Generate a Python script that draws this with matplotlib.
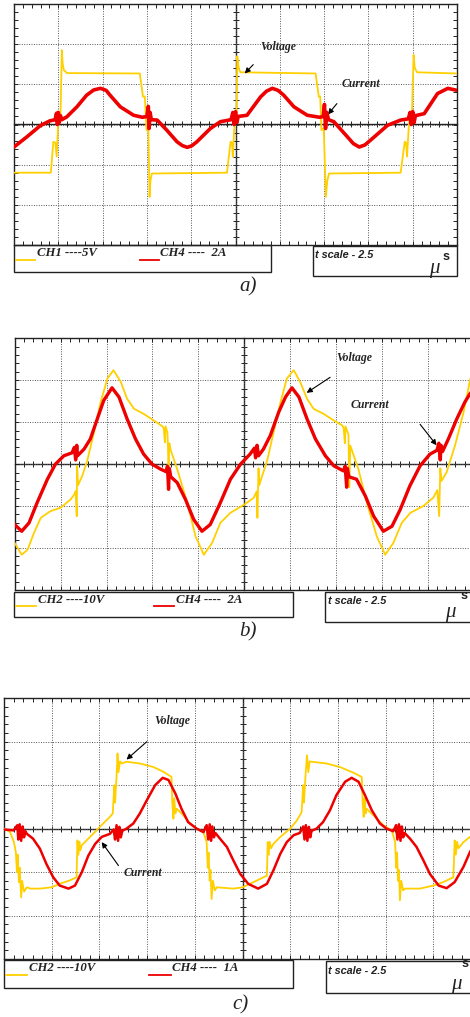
import numpy as np
import matplotlib
matplotlib.use("Agg")
import matplotlib.pyplot as plt
from matplotlib.patches import Rectangle

# screen: 10 div x 2.5 us, 6 div vertically
T_DIV = 2.5

# ---- a) CH1 5 V/div, CH4 2 A/div
a_volt_t = [0, 2.08, 2.22, 2.33, 2.41, 2.5, 2.62, 2.7, 2.75, 2.82,
            3.0, 7.1, 7.28, 7.38, 7.48, 7.58, 7.65, 7.7, 7.78,
            12.02, 12.22, 12.3, 12.35, 12.45, 12.55, 12.6, 12.68, 12.78,
            17.02, 17.2, 17.28, 17.35, 17.48, 17.6, 17.68, 17.78,
            21.82, 22.05, 22.12, 22.18, 22.3, 22.45, 22.55, 22.62, 22.75, 25]
a_volt = [-6.0, -6.0, -2.15, -2.25, -4.0, 0.5, 0.75, 9.25, 7.5, 6.75,
          6.4, 6.35, 3.45, 3.5, -0.7, -0.5, -9.0, -7.0, -6.1,
          -6.0, -2.15, -2.25, -4.0, 0.5, 0.75, 8.5, 7.0, 6.5,
          6.35, 3.45, 3.5, -0.7, -0.5, -9.0, -7.0, -6.1,
          -6.0, -2.15, -2.25, -4.0, 0.5, 0.75, 8.65, 7.0, 6.5, 6.35]
a_curr_t = [0, 0.72, 1.48, 2.02,
            2.32, 2.4, 2.45, 2.5, 2.55, 2.62, 2.7,
            2.98, 3.55, 4.1, 4.5, 4.88, 5.2, 5.42, 6.0, 6.75, 7.25,
            7.5, 7.58, 7.62, 7.68, 7.75,
            8.08, 8.62, 9.2, 9.5, 9.78, 10.05, 10.32, 11.08, 11.65,
            12.25, 12.35, 12.42, 12.5, 12.58, 12.65,
            13.15, 13.92, 14.25, 14.58, 14.9, 15.22, 15.8, 16.55, 17.25,
            17.45, 17.52, 17.58, 17.65, 17.75,
            18.05, 18.82, 19.15, 19.48, 19.8, 20.12, 21.08, 21.82,
            22.25, 22.35, 22.42, 22.5, 22.58, 22.65,
            23.15, 23.9, 24.48, 25]
a_curr = [-1.12, -0.62, -0.06, 0.18,
          0.24, 0.56, 0.0, 0.6, 0.1, 0.44, 0.24,
          0.38, 0.88, 1.46, 1.72, 1.8, 1.7, 1.46, 0.88, 0.46, 0.36,
          0.4, 0.9, -0.2, 0.6, 0.24,
          0.22, -0.28, -0.86, -1.05, -1.14, -1.05, -0.86, -0.2, 0.14,
          0.24, 0.6, 0.0, 0.64, 0.1, 0.4,
          0.46, 1.38, 1.66, 1.8, 1.7, 1.46, 0.88, 0.46, 0.36,
          0.4, 1.0, -0.2, 0.6, 0.24,
          0.14, -0.62, -0.95, -1.12, -1.02, -0.78, -0.04, 0.22,
          0.28, 0.6, 0.0, 0.64, 0.1, 0.44,
          0.54, 1.54, 1.8, 1.7]

# ---- b) CH2 10 V/div, CH4 2 A/div
b_volt_t = [0, 0.38, 0.7, 1.05, 1.42, 1.95, 2.5, 3.05, 3.28,
            3.32, 3.38, 3.4, 3.45,
            3.68, 3.95, 4.32, 4.68, 5.05, 5.38, 5.78, 6.12, 6.5, 7.02, 7.58, 8.05,
            8.12, 8.18, 8.22, 8.32, 8.38, 8.42,
            8.48, 8.85, 9.4, 9.85, 10.3, 10.75, 11.2, 11.75, 12.52, 13.02,
            13.18, 13.22, 13.28, 13.32,
            13.48, 13.75, 14.1, 14.48, 14.82, 15.2, 15.55, 15.92, 16.28, 16.82, 17.38, 17.85,
            17.92, 17.98, 18.02, 18.18, 18.22, 18.28,
            18.72, 19.18, 19.72, 20.18, 20.62, 21.08, 21.55, 22.25, 22.8,
            23.02, 23.12, 23.18, 23.25,
            23.52, 23.98, 24.45, 24.8, 25]
b_volt = [-18.8, -21.6, -20.4, -16.4, -12.8, -11.2, -10.4, -8.4, -7.0,
          -6.4, -12.4, -0.4, -5.0,
          -2.8, 0.8, 7.6, 14.8, 20.4, 22.4, 19.6, 15.6, 13.2, 12.0, 10.4, 9.0,
          8.5, 5.2, 9.0, 7.5, -0.5, 5.0,
          3.6, -1.2, -9.2, -17.2, -21.6, -18.8, -14.0, -11.6, -9.6, -8.0,
          -6.5, -12.8, -1.0, -5.0,
          -2.8, 0.8, 7.6, 14.8, 20.4, 22.4, 19.6, 15.6, 13.2, 12.0, 10.4, 9.2,
          8.5, 5.0, 9.0, 7.0, -5.5, 4.4,
          -1.2, -9.2, -17.2, -21.6, -18.8, -14.0, -11.6, -10.0, -8.0,
          -6.2, -12.4, -1.0, -4.0,
          -2.0, 4.4, 12.4, 20.0, 23.0]
b_curr_t = [0, 0.38, 0.78, 1.22, 1.78, 2.22, 2.68, 3.12,
            3.25, 3.32, 3.38, 3.42,
            3.78, 4.12, 4.5, 4.85, 5.3, 5.68, 6.12, 6.58, 7.02, 7.48, 7.95, 8.25,
            8.32, 8.38, 8.42, 8.5,
            8.85, 9.3, 9.75, 10.2, 10.65, 11.2, 11.75, 12.3, 12.82,
            13.05, 13.12, 13.2, 13.28,
            13.55, 13.92, 14.38, 14.75, 15.1, 15.48, 15.92, 16.38, 16.92, 17.38, 17.9,
            18.0, 18.08, 18.12, 18.2,
            18.62, 19.1, 19.55, 20.08, 20.55, 21.0, 21.52, 22.08, 22.62, 23.0,
            23.1, 23.18, 23.22, 23.3,
            23.62, 24.08, 24.52, 24.8, 25]
b_curr = [-2.88, -3.2, -2.8, -1.84, -0.72, 0.0, 0.4, 0.54,
          0.8, 0.2, 0.9, 0.4,
          0.72, 1.2, 2.16, 3.04, 3.64, 3.2, 2.16, 1.2, 0.48, 0.0, -0.24, -0.36,
          -0.1, -1.2, -0.2, -0.6,
          -0.88, -1.68, -2.64, -3.2, -2.88, -1.84, -0.72, 0.0, 0.48,
          0.76, 0.3, 0.9, 0.4,
          0.72, 1.36, 2.48, 3.2, 3.64, 3.2, 2.16, 1.2, 0.4, -0.08, -0.32,
          -0.1, -1.1, -0.2, -0.6,
          -0.72, -1.52, -2.48, -3.2, -2.96, -2.16, -1.04, -0.08, 0.48, 0.66,
          1.0, 0.2, 0.9, 0.6,
          1.2, 2.16, 2.96, 3.36, 3.56]

# ---- c) CH2 10 V/div, CH4 1 A/div
c_volt_t = [0, 0.32, 0.52, 0.62,
            0.68, 0.72, 0.78, 0.82, 0.9, 0.95, 1.05,
            1.2, 1.38, 1.88, 2.5, 2.92, 3.45, 3.8,
            3.85, 3.9, 3.95, 4.0,
            4.08, 4.42, 4.85, 5.2, 5.55, 5.7,
            5.78, 5.82, 5.9, 5.95, 6.0, 6.08,
            6.18, 6.42, 7.12, 7.82, 8.35, 8.78,
            8.82, 8.88, 8.92, 8.98, 9.05,
            9.4, 9.75, 10.1, 10.45, 10.62,
            10.68, 10.72, 10.78, 10.82, 10.88, 10.95, 11.05,
            11.15, 12.02, 12.5, 13.08, 13.6, 13.78,
            13.82, 13.88, 13.92, 14.0,
            14.12, 14.48, 15.0, 15.35, 15.6,
            15.68, 15.72, 15.8, 15.88, 15.95, 16.02,
            16.12, 16.9, 17.6, 18.3, 18.75,
            18.8, 18.85, 18.9, 18.95, 19.0,
            19.45, 19.88, 20.32, 20.5,
            20.55, 20.6, 20.65, 20.7, 20.75, 20.82, 20.92,
            21.02, 21.8, 22.5, 23.02, 23.55,
            23.62, 23.68, 23.75, 23.82,
            24.08, 24.42, 25]
c_volt = [0.0, -0.8, -3.1, -5.4,
          -10.0, -6.0, -12.3, -9.0, -15.8, -12.0, -14.5,
          -13.5, -13.8, -13.8, -13.5, -12.7, -11.9, -11.2,
          -2.7, -6.0, -3.0, -5.0,
          -3.8, -2.3, -0.4, 1.2, 2.7, 3.5,
          10.0, 6.0, 12.0, 17.3, 13.0, 15.5,
          15.0, 15.4, 15.0, 14.2, 13.1, 11.9,
          6.0, 2.3, 7.0, 3.5, 4.6,
          3.1, 1.2, 0.0, -0.8, -3.1,
          -9.0, -5.5, -12.0, -9.5, -16.2, -12.0, -14.2,
          -13.5, -13.8, -13.5, -12.3, -11.2, -10.8,
          -3.1, -6.0, -3.0, -4.5,
          -3.5, -1.9, 0.0, 1.9, 3.8,
          10.0, 6.0, 12.0, 16.9, 13.0, 15.5,
          15.4, 15.0, 14.2, 12.9, 11.9,
          6.0, 2.7, 7.0, 3.5, 4.6,
          2.7, 0.8, -0.4, -3.1,
          -9.0, -5.5, -12.0, -9.5, -16.5, -12.0, -14.2,
          -13.8, -13.8, -13.1, -12.3, -11.2,
          -2.7, -6.0, -3.0, -4.5,
          -3.1, -1.9, -1.0]
c_curr_t = [0, 0.5,
            0.7, 0.75, 0.82, 0.9, 0.98, 1.05, 1.12,
            1.2, 1.52, 1.88, 2.22, 2.58, 2.92, 3.38, 3.72, 4.08, 4.42, 4.78, 5.12, 5.55,
            5.75, 5.82, 5.9, 5.98, 6.05, 6.12, 6.2,
            6.42, 6.78, 7.12, 7.48, 7.92, 8.32, 8.62, 8.98, 9.3, 9.65, 10.1, 10.45,
            10.62, 10.7, 10.78, 10.85, 10.92, 11.0, 11.08,
            11.32, 11.68, 12.02, 12.38, 12.8, 13.32, 13.78, 14.12, 14.48, 14.82, 15.18, 15.5,
            15.68, 15.75, 15.82, 15.9, 15.98, 16.05, 16.12,
            16.38, 16.72, 17.08, 17.42, 17.88, 18.22, 18.58, 18.92, 19.28, 19.7, 20.05, 20.4,
            20.55, 20.62, 20.7, 20.78, 20.85, 20.92, 21.0,
            21.28, 21.62, 21.98, 22.32, 22.78, 23.2, 23.62, 24.08, 24.42, 25]
c_curr = [-0.02, -0.04,
          0.08, -0.25, 0.1, -0.28, 0.05, -0.2, -0.06,
          -0.12, -0.23, -0.46, -0.81, -1.12, -1.31, -1.38, -1.31, -1.0, -0.62, -0.35, -0.19, -0.12,
          -0.02, -0.25, 0.08, -0.28, 0.04, -0.2, -0.05,
          0.0, 0.12, 0.35, 0.65, 1.0, 1.17, 1.12, 0.81, 0.46, 0.15, 0.0, -0.08,
          0.08, -0.25, 0.1, -0.28, 0.05, -0.2, -0.1,
          -0.23, -0.42, -0.73, -1.04, -1.27, -1.38, -1.27, -0.96, -0.58, -0.31, -0.15, -0.1,
          0.05, -0.25, 0.08, -0.28, 0.04, -0.2, -0.05,
          0.0, 0.15, 0.42, 0.77, 1.08, 1.17, 1.08, 0.77, 0.42, 0.12, 0.0, -0.06,
          0.08, -0.25, 0.1, -0.28, 0.05, -0.2, -0.1,
          -0.23, -0.42, -0.73, -1.04, -1.31, -1.37, -1.23, -0.88, -0.54, -0.1]

YELLOW = "#FFD000"
RED = "#EE0000"
FRAME = "#222222"
SERIF = "Liberation Serif"
SANS = "Liberation Sans"
W, H = 470, 1017


def draw_panel(fig, rect, volt_t, volt, curr_t, curr, v_div, i_div, lw_v, lw_i, notes):
    ax = fig.add_axes(rect)
    ax.set_xlim(0, 10 * T_DIV)
    ax.set_ylim(-3 * v_div, 3 * v_div)
    tw = ax.twinx()
    tw.set_ylim(-3 * i_div, 3 * i_div)
    tw.set_yticks([])
    for s in tw.spines.values():
        s.set_visible(False)

    ax.set_xticks(np.arange(0, 10 * T_DIV + 0.01, T_DIV))
    ax.set_xticks(np.arange(0, 10 * T_DIV + 0.01, T_DIV / 5), minor=True)
    ax.set_yticks(np.arange(-3, 3.01, 1) * v_div)
    ax.set_yticks(np.arange(-3, 3.01, 0.2) * v_div, minor=True)
    ax.tick_params(which="both", direction="in", top=True, right=True, length=3,
                   width=0.7, color=FRAME, labelbottom=False, labelleft=False)
    ax.grid(True, which="major", color="#555555", linestyle=(0, (1, 1.5)), linewidth=0.7)
    ax.set_axisbelow(True)
    for s in ax.spines.values():
        s.set_linewidth(1.0)
        s.set_color(FRAME)

    # centre cross with its own tick marks
    cx = ax.secondary_xaxis(0.5)
    cx.set_xticks(np.arange(0, 10 * T_DIV + 0.01, T_DIV))
    cx.set_xticks(np.arange(0, 10 * T_DIV + 0.01, T_DIV / 5), minor=True)
    cx.tick_params(which="both", direction="inout", length=5, width=0.7, color=FRAME,
                   labeltop=False, labelbottom=False)
    for s in cx.spines.values():
        s.set_color(FRAME)
        s.set_linewidth(1.0)
    cy = ax.secondary_yaxis(0.5)
    cy.set_yticks(np.arange(-3, 3.01, 1) * v_div)
    cy.set_yticks(np.arange(-3, 3.01, 0.2) * v_div, minor=True)
    cy.tick_params(which="both", direction="inout", length=5, width=0.7, color=FRAME,
                   labelleft=False, labelright=False)
    for s in cy.spines.values():
        s.set_color(FRAME)
        s.set_linewidth(1.0)

    ax.plot(volt_t, volt, color=YELLOW, lw=lw_v, zorder=3)
    tw.plot(curr_t, curr, color=RED, lw=lw_i, zorder=4)

    for label, txt_xy, tail, head in notes:
        if label:
            ax.text(*txt_xy, label, fontfamily=SERIF, fontweight="bold", fontstyle="italic",
                    fontsize=8.5, ha="center", va="center", color="#222222", zorder=6)
        if tail is not None:
            ax.annotate("", xy=head, xytext=tail, zorder=6,
                        arrowprops=dict(arrowstyle="-|>", color="black", lw=0.8,
                                        mutation_scale=8, shrinkA=0, shrinkB=0))
    return ax


def legend_boxes(ov, left_box, right_box, ch_v, ch_i, y_txt, y_line, x_items, tscale_xy, mu_xy, s_xy):
    lx0, ly0, lx1, ly1 = left_box
    ov.add_patch(Rectangle((lx0, ly0), lx1 - lx0, ly1 - ly0, fill=False, lw=1.0, ec=FRAME))
    rx0, ry0, rx1, ry1 = right_box
    ov.add_patch(Rectangle((rx0, ry0), rx1 - rx0, ry1 - ry0, fill=False, lw=1.0, ec=FRAME))
    yl0, yl1, tv, rl0, rl1, ti = x_items
    ov.plot([yl0, yl1], [y_line, y_line], color=YELLOW, lw=1.3)
    ov.plot([rl0, rl1], [y_line, y_line], color=RED, lw=1.3)
    kw = dict(fontfamily=SERIF, fontweight="bold", fontstyle="italic", fontsize=9.2,
              va="center", ha="left", color="#222222")
    ov.text(tv, y_txt, ch_v, **kw)
    ov.text(ti, y_txt, ch_i, **kw)
    ov.text(*tscale_xy, "t scale - 2.5", fontfamily=SANS, fontweight="bold",
            fontstyle="italic", fontsize=7.8, va="center", ha="left", color="#222222")
    ov.text(*mu_xy, "\u03bc", fontfamily=SERIF, fontstyle="italic", fontsize=15,
            va="center", ha="center", color="#222222")
    ov.text(*s_xy, "s", fontfamily=SANS, fontweight="bold", fontsize=9,
            va="center", ha="center", color="#222222")


fig = plt.figure(figsize=(W / 100, H / 100), dpi=100)

draw_panel(fig, [14 / W, 1 - 245 / H, 443 / W, 241 / H],
           a_volt_t, a_volt, a_curr_t, a_curr, 5, 2, 1.3, 2.6,
           [("Voltage", (14.9, 9.7), (13.5, 7.45), (13.02, 6.35)),
            ("Current", (19.58, 5.0), (18.22, 2.6), (17.72, 1.25))])
draw_panel(fig, [14.7 / W, 1 - 590 / H, 459 / W, 251.7 / H],
           b_volt_t, b_volt, b_curr_t, b_curr, 10, 2, 1.3, 2.4,
           [("Voltage", (18.52, 25.4), (17.18, 20.7), (15.9, 17.0)),
            ("Current", (19.35, 14.2), None, None),
            ("", None, (22.08, 9.5), (22.98, 4.5))])
draw_panel(fig, [4 / W, 1 - 959 / H, 477 / W, 260.7 / H],
           c_volt_t, c_volt, c_curr_t, c_curr, 10, 1, 1.3, 1.8,
           [("Voltage", (8.8, 24.8), (7.48, 20.0), (6.42, 15.9)),
            ("Current", (7.3, -10.2), (6.0, -8.5), (5.12, -3.1))])

ov = fig.add_axes([0, 0, 1, 1], zorder=10)
ov.set_xlim(0, W)
ov.set_ylim(H, 0)
ov.set_axis_off()
ov.patch.set_visible(False)

legend_boxes(ov, (14, 245, 271, 272), (313, 246, 457, 276), "CH1 ----5V", "CH4 ----  2A",
             253, 259.5, (16, 35, 37, 140, 159, 160), (315, 255), (434, 269), (446, 257))
legend_boxes(ov, (13.5, 591.5, 292.7, 617.3), (325, 591.5, 480, 622), "CH2 ----10V",
             "CH4 ----  2A", 600, 606, (16, 36, 38, 154, 174, 176), (328, 601),
             (450, 613), (464, 596))
legend_boxes(ov, (3.5, 960.3, 292.7, 988.3), (325.7, 961, 485, 993), "CH2 ----10V",
             "CH4 ----  1A", 968, 975, (6, 27, 29, 149, 171, 172), (328, 971),
             (456, 985), (465, 964))

for lab, x, y in [("a)", 248, 287), ("b)", 248, 632), ("c)", 240, 1005)]:
    ov.text(x, y, lab, fontfamily=SERIF, fontstyle="italic", fontsize=15,
            ha="center", va="center", color="#222222")

fig.savefig("out.png", dpi=100)
